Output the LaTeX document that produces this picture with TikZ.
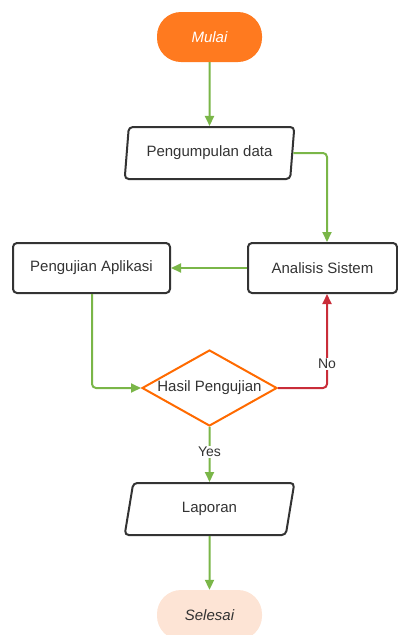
\documentclass[tikz,border=0pt]{standalone}
\usepackage{fontspec}
\setmainfont{Liberation Sans}
\usetikzlibrary{shapes.geometric,arrows.meta}
\definecolor{lgreen}{HTML}{7AB648}
\definecolor{lred}{HTML}{C92D39}
\definecolor{lorange}{HTML}{FF7A1F}
\definecolor{lorline}{HTML}{FF6A00}
\definecolor{lpeach}{HTML}{FDE4D5}
\definecolor{ltext}{HTML}{333333}
\tikzset{
  base/.style={font=\fontsize{15}{18}\selectfont, text=ltext, inner sep=0pt},
  terminal/.style={base, rounded corners=24pt, minimum width=105pt, minimum height=50pt, font=\fontsize{15}{18}\selectfont\itshape},
  procbox/.style={base, draw=ltext, line width=2pt, rounded corners=4pt, minimum height=50pt},
  iobox/.style={base, draw=ltext, line width=2pt, rounded corners=4pt, trapezium, trapezium stretches=true, trapezium left angle=77, trapezium right angle=103, minimum width=170pt, minimum height=52pt},
  decision/.style={base, diamond, draw=lorline, line width=2pt, minimum width=135pt, minimum height=76pt, aspect=1.78},
  flow/.style={draw=lgreen, line width=2pt, rounded corners=4pt, -{Triangle[length=10pt,width=9pt]}},
  noflow/.style={draw=lred, line width=2pt, rounded corners=4pt, -{Triangle[length=10pt,width=9pt]}},
  lbl/.style={font=\fontsize{14}{16}\selectfont, text=ltext, fill=white, inner sep=1pt}
}
\begin{document}
\begin{tikzpicture}[x=1pt,y=-1pt]
\useasboundingbox (0,0) rectangle (398,635);
\clip (0,0) rectangle (398,635);
\node[terminal, fill=lorange, text=white] (start) at (209.5,37) {Mulai};
\node[iobox] (pd) at (209.5,153) {Pengumpulan data};
\node[procbox, minimum width=149pt] (as) at (322.5,268) {Analisis Sistem};
\node[procbox, minimum width=157pt] (pa) at (91.5,268) {Pengujian Aplikasi};
\node[decision] (hp) at (209.5,388) {Hasil Pengujian};
\node[iobox] (lap) at (209.5,509) {Laporan};
\node[terminal, fill=lpeach, text=ltext] (end) at (209.5,615) {Selesai};
\coordinate (c1) at (327,153);
\coordinate (c2) at (92,388);
\coordinate (c3) at (327,388);
\draw[flow] (start.south) -- (pd.north);
\draw[flow] (pd.east) -- (c1) -- (as.north -| c1);
\draw[flow] (as.west) -- (pa.east);
\draw[flow] (pa.south -| c2) -- (c2) -- (hp.west);
\draw[noflow] (hp.east) -- (c3) -- (as.south -| c3);
\draw[flow] (hp.south) -- (lap.north);
\draw[flow] (lap.south) -- (end.north);
\node[lbl] (no) at (327,364) {No};
\node[lbl] (yes) at (209.5,452) {Yes};
\end{tikzpicture}
\end{document}
